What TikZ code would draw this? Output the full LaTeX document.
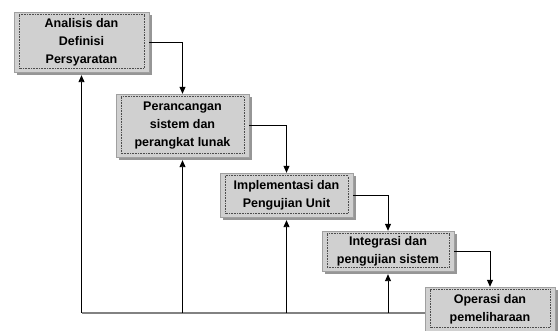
\documentclass[tikz,border=0pt]{standalone}
\usepackage{fontspec}
\setmainfont{Liberation Sans}
\usetikzlibrary{arrows.meta,shadows}
\definecolor{boxfill}{RGB}{208,208,208}
\definecolor{boxedge}{RGB}{160,160,160}
\definecolor{boxshade}{RGB}{150,150,150}
\definecolor{baseline}{RGB}{130,130,130}
\tikzset{
  x=1pt, y=-1pt,
  phase/.style={draw=boxedge, fill=boxfill, inner sep=0pt, align=center,
    font=\fontsize{12.5}{18}\selectfont\bfseries,
    general shadow={fill=boxshade, shadow xshift=3pt, shadow yshift=-3pt}},
  flow/.style={draw=black, line width=0.9pt, -{Triangle[length=7pt,width=6pt]}},
  back/.style={draw=black, line width=0.9pt, -{Triangle[length=7pt,width=6pt]}},
  baseline/.style={draw=baseline, line width=1.6pt},
  inner/.style={draw=black!70, densely dotted, line width=0.6pt}
}
\begin{document}
\begin{tikzpicture}
\useasboundingbox (0,0) rectangle (558,331);

% phases of the waterfall
\node[phase, minimum width=135pt, minimum height=60pt] (b1) at (81.5,42)
  {Analisis dan\\Definisi\\Persyaratan};
\node[phase, minimum width=133pt, minimum height=63pt] (b2) at (182.5,125.5)
  {Perancangan\\sistem dan\\perangkat lunak};
\node[phase, minimum width=133pt, minimum height=44pt] (b3) at (286.5,195)
  {Implementasi dan\\Pengujian Unit};
\node[phase, minimum width=132pt, minimum height=40pt] (b4) at (388,251)
  {Integrasi dan\\pengujian sistem};
\node[phase, minimum width=130pt, minimum height=44pt] (b5) at (490,309)
  {Operasi dan\\pemeliharaan};

% dotted inner frames
\foreach \n in {b1,b2,b3,b4,b5}
  \draw[inner] ([shift={(5pt,-3pt)}]\n.north west) rectangle ([shift={(-5pt,4pt)}]\n.south east);

% forward flow
\draw[flow] (b1.east) -| (b2.north);
\draw[flow] (b2.east) -| (b3.north);
\draw[flow] (b3.east) -| (b4.north);
\draw[flow] (b4.east) -| (b5.north);

% feedback to earlier phases
\coordinate (ret) at (b5.west |- 0,313);
\coordinate (retend) at (b1.south |- ret);
\draw[baseline] (ret) -- (retend);
\draw[back] (b1.south |- ret) -- ([yshift=-3pt]b1.south);
\draw[back] (b2.south |- ret) -- ([yshift=-3pt]b2.south);
\draw[back] (b3.south |- ret) -- ([yshift=-3pt]b3.south);
\draw[back] (b4.south |- ret) -- ([yshift=-3pt]b4.south);
\end{tikzpicture}
\end{document}
